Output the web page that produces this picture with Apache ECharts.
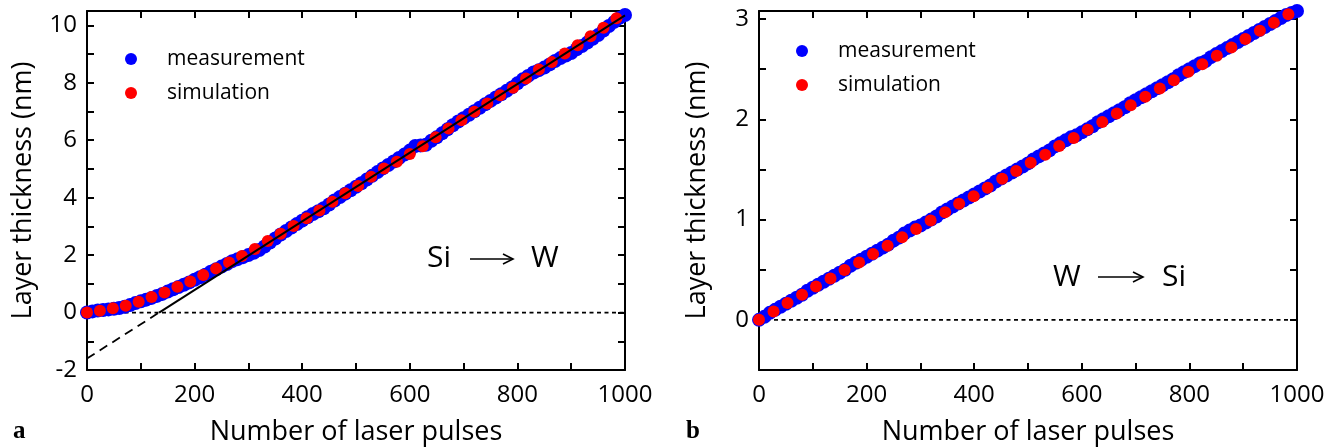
<!DOCTYPE html>
<html>
<head>
<meta charset="utf-8">
<script src="https://cdn.jsdelivr.net/npm/echarts@6/dist/echarts.min.js"></script>
<style>
html,body{margin:0;padding:0;background:#fff;}
#c{width:1336px;height:448px;}
</style>
</head>
<body>
<div id="c"></div>
<script>
// ---------- data ----------
const measPulses = [0,10,20,30,40,50,60,70,80,90,100,110,120,130,140,150,160,170,180,190,200,210,220,230,240,250,260,270,280,290,300,310,320,330,340,350,360,370,380,390,400,410,420,430,440,450,460,470,480,490,500,510,520,530,540,550,560,570,580,590,600,610,620,630,640,650,660,670,680,690,700,710,720,730,740,750,760,770,780,790,800,810,820,830,840,850,860,870,880,890,900,910,920,930,940,950,960,970,980,990,1000];

// panel a: Si -> W
const measA = [0.0,0.04,0.07,0.09,0.11,0.13,0.16,0.2,0.26,0.33,0.39,0.45,0.51,0.58,0.65,0.73,0.81,0.89,0.97,1.05,1.14,1.23,1.32,1.42,1.51,1.6,1.69,1.79,1.86,1.93,2.0,2.08,2.18,2.3,2.44,2.58,2.72,2.84,2.96,3.08,3.2,3.32,3.43,3.53,3.63,3.76,3.9,4.02,4.14,4.26,4.38,4.5,4.63,4.76,4.89,5.02,5.14,5.26,5.38,5.5,5.64,5.8,5.82,5.84,5.98,6.1,6.24,6.38,6.52,6.65,6.77,6.89,7.01,7.13,7.25,7.37,7.49,7.6,7.72,7.84,7.98,8.12,8.24,8.36,8.44,8.53,8.64,8.76,8.86,8.95,9.04,9.17,9.28,9.4,9.53,9.66,9.82,9.98,10.12,10.26,10.36];
const simPulsesA = [0,24,48,72,96,120,144,168,192,216,240,264,288,312,336,360,384,408,432,456,480,504,528,552,576,600,624,648,672,696,720,744,768,792,816,840,864,888,912,936,960,984];
const simA = [0,0.06,0.15,0.24,0.38,0.54,0.70,0.90,1.08,1.31,1.53,1.74,1.97,2.21,2.49,2.74,3.01,3.28,3.55,3.86,4.15,4.41,4.73,5.02,5.25,5.52,5.79,6.10,6.41,6.70,6.99,7.28,7.57,7.83,8.15,8.46,8.72,9.02,9.31,9.62,9.92,10.25];
const fitDashA = [[0,-1.6],[134,0]];
const fitSolidA = [[134,0],[1000,10.35]];
const zeroLine = [[0,0],[1000,0]];

// panel b: W -> Si
const measB = [0,0.03,0.07,0.1,0.13,0.16,0.19,0.22,0.25,0.29,0.32,0.35,0.38,0.41,0.44,0.47,0.5,0.54,0.57,0.6,0.63,0.66,0.69,0.72,0.75,0.79,0.82,0.86,0.89,0.92,0.94,0.97,1.0,1.03,1.07,1.1,1.13,1.16,1.19,1.22,1.25,1.28,1.31,1.34,1.38,1.41,1.44,1.47,1.5,1.53,1.56,1.6,1.63,1.66,1.69,1.73,1.76,1.79,1.82,1.84,1.87,1.9,1.93,1.97,2.0,2.03,2.06,2.09,2.12,2.16,2.19,2.22,2.25,2.28,2.31,2.34,2.37,2.4,2.44,2.47,2.5,2.53,2.56,2.58,2.62,2.65,2.68,2.71,2.74,2.77,2.8,2.83,2.86,2.89,2.92,2.95,2.98,3.01,3.04,3.06,3.08];
const simPulsesB = [0,27,53,80,106,133,159,186,212,239,266,292,319,346,372,399,425,452,478,505,532,558,585,611,638,665,691,718,745,771,798,824,851,878,904,931,957,984];
const simB = [0,0.084,0.167,0.25,0.333,0.413,0.497,0.573,0.657,0.74,0.823,0.907,0.99,1.073,1.157,1.233,1.317,1.407,1.484,1.567,1.647,1.734,1.814,1.897,1.974,2.057,2.14,2.224,2.307,2.39,2.474,2.55,2.634,2.717,2.8,2.884,2.964,3.047];

const xTickLabels = [0,200,400,600,800,1000];
const yTickLabelsA = [-2,0,2,4,6,8,10];
const yTickLabelsB = [0,1,2,3];

// ---------- chart ----------
const FONT = 'Open Sans';
const zip = (xs, ys) => xs.map((x, i) => [x, ys[i]]);
const inList = (list) => (v) => list.some(t => Math.abs(t - v) < 1e-6) ? String(Math.round(v)) : '';

function xAx(gi, top, labels) {
  return {
    type: 'value', gridIndex: gi, position: top ? 'top' : 'bottom',
    min: 0, max: 1000, interval: 100,
    axisLine: {onZero: false, lineStyle: {color: '#000', width: 2}},
    axisTick: {show: true, inside: true, length: 7, lineStyle: {color: '#000', width: 2}},
    axisLabel: {show: !top, formatter: inList(labels), color: '#000', fontFamily: FONT, fontSize: 24, margin: 13},
    splitLine: {show: false},
    name: top ? '' : 'Number of laser pulses', nameLocation: 'middle', nameGap: 49,
    nameTextStyle: {color: '#000', fontFamily: FONT, fontSize: 27}
  };
}
function yAx(gi, right, min, max, interval, labels, gap) {
  return {
    type: 'value', gridIndex: gi, position: right ? 'right' : 'left',
    min: min, max: max, interval: interval,
    axisLine: {onZero: false, lineStyle: {color: '#000', width: 2}},
    axisTick: {show: true, inside: true, length: 7, lineStyle: {color: '#000', width: 2}},
    axisLabel: {show: !right, formatter: inList(labels), color: '#000', fontFamily: FONT, fontSize: 24, margin: 10},
    splitLine: {show: false},
    name: right ? '' : 'Layer thickness (nm)', nameLocation: 'middle', nameGap: gap,
    nameTextStyle: {color: '#000', fontFamily: FONT, fontSize: 27}
  };
}
function legend(left, top) {
  return {
    data: ['measurement', 'simulation'], orient: 'vertical', left: left, top: top,
    icon: 'circle', itemWidth: 12, itemHeight: 12, itemGap: 12, selectedMode: false,
    textStyle: {color: '#000', fontFamily: FONT, fontSize: 21, lineHeight: 22, padding: [0, 0, 0, 25]}
  };
}
function txt(x, y, s, size, extra) {
  return Object.assign({type: 'text', x: x, y: y, style: {text: s, fill: '#000', font: size + 'px "' + FONT + '"', verticalAlign: 'middle', align: 'left'}}, extra || {});
}
function arrow(x1, x2, y) {
  return [
    {type: 'line', shape: {x1: x1, y1: y, x2: x2 - 1, y2: y}, style: {stroke: '#000', lineWidth: 1.6}},
    {type: 'polyline', shape: {points: [[x2 - 10, y - 5], [x2, y], [x2 - 10, y + 5]]}, style: {stroke: '#000', lineWidth: 1.6, fill: null}}
  ];
}

const chart = echarts.init(document.getElementById('c'), null, {renderer: 'canvas'});
chart.setOption({
  animation: false,
  backgroundColor: '#fff',
  grid: [
    {left: 87, top: 11, width: 538, height: 359, outerBoundsMode: 'none', containLabel: false},
    {left: 759, top: 11, width: 538, height: 359, outerBoundsMode: 'none', containLabel: false}
  ],
  xAxis: [xAx(0, false, xTickLabels), xAx(0, true, xTickLabels), xAx(1, false, xTickLabels), xAx(1, true, xTickLabels)],
  yAxis: [
    yAx(0, false, -2, 10.5, 1, yTickLabelsA, 50),
    yAx(0, true, -2, 10.5, 1, yTickLabelsA, 50),
    yAx(1, false, -0.5, 3.08, 0.5, yTickLabelsB, 48),
    yAx(1, true, -0.5, 3.08, 0.5, yTickLabelsB, 48)
  ],
  legend: [legend(120, 43), legend(791, 35)],
  series: [
    {type: 'line', xAxisIndex: 0, yAxisIndex: 0, data: zeroLine, symbol: 'none', silent: true,
     lineStyle: {color: '#000', width: 1.8, type: [4, 3.5]}, z: 1},
    {name: 'measurement', type: 'scatter', xAxisIndex: 0, yAxisIndex: 0, data: zip(measPulses, measA),
     symbolSize: 14, itemStyle: {color: '#0000ff', opacity: 1}, z: 2},
    {name: 'simulation', type: 'scatter', xAxisIndex: 0, yAxisIndex: 0, data: zip(simPulsesA, simA),
     symbolSize: 12, itemStyle: {color: '#ff0000', opacity: 1}, z: 3},
    {type: 'line', xAxisIndex: 0, yAxisIndex: 0, data: fitDashA, symbol: 'none', silent: true,
     lineStyle: {color: '#000', width: 1.8, type: [9, 6]}, z: 4},
    {type: 'line', xAxisIndex: 0, yAxisIndex: 0, data: fitSolidA, symbol: 'none', silent: true,
     lineStyle: {color: '#000', width: 2}, z: 4},

    {type: 'line', xAxisIndex: 2, yAxisIndex: 2, data: zeroLine, symbol: 'none', silent: true,
     lineStyle: {color: '#000', width: 1.8, type: [4, 3.5]}, z: 1},
    {name: 'measurement', type: 'scatter', xAxisIndex: 2, yAxisIndex: 2, data: zip(measPulses, measB),
     symbolSize: 14, itemStyle: {color: '#0000ff', opacity: 1}, z: 2},
    {name: 'simulation', type: 'scatter', xAxisIndex: 2, yAxisIndex: 2, data: zip(simPulsesB, simB),
     symbolSize: 12, itemStyle: {color: '#ff0000', opacity: 1}, z: 3}
  ],
  graphic: [
    txt(427, 258, 'Si', 30),
    ...arrow(470, 513, 259),
    txt(531, 258, 'W', 30),
    txt(1053, 277, 'W', 30),
    ...arrow(1098, 1143, 277),
    txt(1162, 277, 'Si', 30),
    {type: 'text', x: 13, y: 432, style: {text: 'a', fill: '#000', font: 'bold 25px "Liberation Serif"', verticalAlign: 'middle'}},
    {type: 'text', x: 686, y: 432, style: {text: 'b', fill: '#000', font: 'bold 25px "Liberation Serif"', verticalAlign: 'middle'}}
  ]
});
</script>
</body>
</html>
